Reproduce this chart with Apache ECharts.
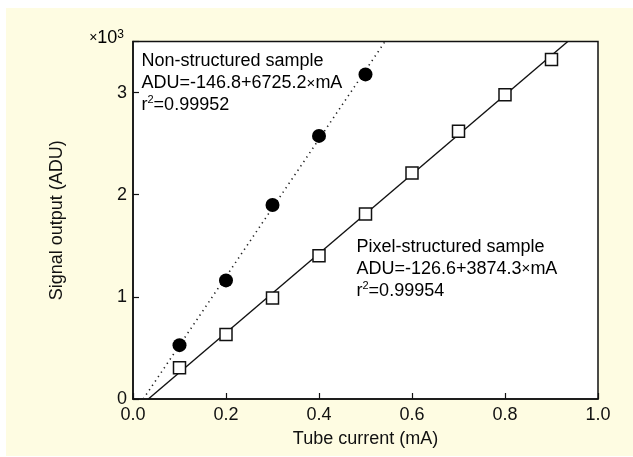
<!DOCTYPE html>
<html>
<head>
<meta charset="utf-8">
<script src="https://cdn.jsdelivr.net/npm/echarts@6/dist/echarts.min.js"></script>
<style>
html,body{margin:0;padding:0;background:#fff;}
#c{width:633px;height:457px;}
</style>
</head>
<body>
<div id="c"></div>
<script>
// ---- data ----
const tubeCurrent = [0.1, 0.2, 0.3, 0.4, 0.5, 0.6, 0.7, 0.8, 0.9];
const nonStructured = [527, 1161, 1900, 2576, 3178];          // ADU at 0.1..0.5 mA
const pixelStructured = [305, 631, 988, 1402, 1812, 2212, 2621, 2979, 3324]; // ADU at 0.1..0.9 mA
const nonFitEnds = [[0.022, 0], [0.542, 3500]];   // dotted fit line end points
const pixFitEnds = [[0.033, 0], [0.935, 3500]];   // solid fit line end points
const xTickValues = [0.0, 0.2, 0.4, 0.6, 0.8, 1.0];
const yTickLabels = ['0', '1', '2', '3'];
const nonText = ['Non-structured sample', 'ADU=-146.8+6725.2', 'mA', '0.99952'];
const pixText = ['Pixel-structured sample', 'ADU=-126.6+3874.3', 'mA', '0.99954'];

const FONT = 'Liberation Sans, Arial, Helvetica, sans-serif';
const chart = echarts.init(document.getElementById('c'));

function pairs(xs, ys) { return ys.map((v, i) => [xs[i], v]); }

const rich = {
  t: { fontSize: 18, lineHeight: 22, fontFamily: FONT, color: '#111' },
  m: { fontSize: 15, lineHeight: 22, fontFamily: FONT, color: '#777' },
  s: { fontSize: 11, lineHeight: 14, fontFamily: FONT, color: '#111', verticalAlign: 'top' }
};
function annot(a) {
  return '{t|' + a[0] + '}\n{t|' + a[1] + '}{m|×}{t|' + a[2] + '}\n{t|r}{s|2}{t|=' + a[3] + '}';
}

chart.setOption({
  backgroundColor: '#ffffff',
  animation: false,
  graphic: [
    { type: 'rect', z: -10, shape: { x: 6, y: 8, width: 627, height: 448 }, style: { fill: '#fefce2' }, silent: true },
    { type: 'text', z: 10, x: 124, y: 29, style: {
        text: '{x|×}{b|10}{s|3}', align: 'right',
        rich: {
          x: { fontSize: 14, lineHeight: 19, fontFamily: FONT, color: '#444' },
          b: { fontSize: 18, lineHeight: 19, fontFamily: FONT, color: '#111' },
          s: { fontSize: 12, lineHeight: 12, fontFamily: FONT, color: '#111', verticalAlign: 'top' }
        } } },
    { type: 'text', z: 10, x: 141.5, y: 50.5, style: { text: annot(nonText), rich: rich } },
    { type: 'text', z: 10, x: 356.5, y: 236, style: { text: annot(pixText), rich: rich } }
  ],
  grid: {
    left: 133, right: 35, top: 41.5, bottom: 58,
    show: true, borderColor: '#111', borderWidth: 1.5, backgroundColor: '#ffffff'
  },
  xAxis: {
    type: 'value', min: 0, max: 1, interval: 0.2,
    name: 'Tube current (mA)', nameLocation: 'middle', nameGap: 31,
    nameTextStyle: { fontSize: 18, fontFamily: FONT, color: '#111' },
    axisLine: { show: true, lineStyle: { color: '#111', width: 1.5 } },
    axisTick: { show: true, inside: true, length: 6, lineStyle: { color: '#111', width: 1.2 } },
    axisLabel: { margin: 7, fontSize: 18, fontFamily: FONT, color: '#111',
      formatter: v => { const i = xTickValues.findIndex(t => Math.abs(t - v) < 1e-6); return i >= 0 ? xTickValues[i].toFixed(1) : ''; } },
    splitLine: { show: false }
  },
  yAxis: {
    type: 'value', min: 0, max: 3500, interval: 1000,
    name: 'Signal output (ADU)', nameLocation: 'middle', nameGap: 67, nameRotate: 90,
    nameTextStyle: { fontSize: 18, fontFamily: FONT, color: '#111' },
    axisLine: { show: true, lineStyle: { color: '#111', width: 1.5 } },
    axisTick: { show: true, inside: true, length: 6, lineStyle: { color: '#111', width: 1.2 } },
    axisLabel: { margin: 6, fontSize: 18, fontFamily: FONT, color: '#111',
      formatter: v => { const i = Math.round(v / 1000); return (v % 1000 === 0 && yTickLabels[i] !== undefined) ? yTickLabels[i] : ''; } },
    splitLine: { show: false }
  },
  series: [
    { type: 'line', data: nonFitEnds, symbol: 'none', z: 2,
      lineStyle: { color: '#222', width: 1.6, type: [1.3, 4], cap: 'butt' } },
    { type: 'line', data: pixFitEnds, symbol: 'none', z: 2,
      lineStyle: { color: '#111', width: 1.4 } },
    { type: 'scatter', data: pairs(tubeCurrent, nonStructured), symbol: 'circle', symbolSize: 14, z: 3,
      itemStyle: { color: '#000', opacity: 1 } },
    { type: 'scatter', data: pairs(tubeCurrent, pixelStructured), symbol: 'rect', symbolSize: 12, z: 3,
      itemStyle: { color: '#fff', borderColor: '#111', borderWidth: 1.5, opacity: 1 } }
  ]
});
</script>
</body>
</html>
